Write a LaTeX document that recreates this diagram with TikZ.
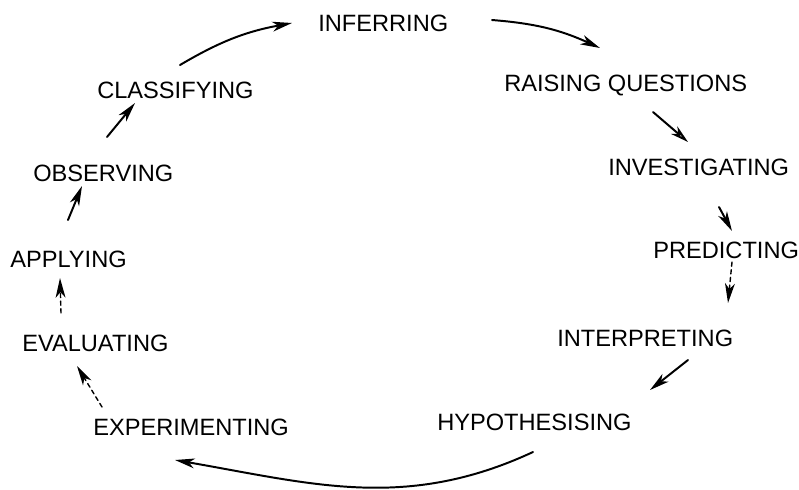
\documentclass[tikz,border=0pt]{standalone}
\usepackage{fontspec}
\setmainfont{Liberation Sans}
\usetikzlibrary{arrows.meta,calc}

\begin{document}
\begin{tikzpicture}[x=0.025cm, y=-0.025cm, line join=round, line cap=round,
  lbl/.style={anchor=west, inner sep=0pt, text depth=0pt, font=\fontsize{16.8}{20}\selectfont},
  flow/.style={-{Stealth[length=14pt, width=7pt, inset=4pt]}, line width=1.4pt},
  flowopen/.style={-{Stealth[open, length=13pt, width=7pt, inset=4pt]}, line width=1.4pt},
  flowdash/.style={flow, line width=1pt, dash pattern=on 3pt off 2.5pt}]
  % 1. Khung hinh
  \useasboundingbox (0,0) rectangle (799,489);

  % 2. Cac buoc cua chu trinh
  \node[lbl] (inf)  at (318,23)  {INFERRING};
  \node[lbl] (rq)   at (504,83)  {RAISING QUESTIONS};
  \node[lbl] (inv)  at (608,167) {INVESTIGATING};
  \node[lbl] (pred) at (653,250) {PREDICTING};
  \node[lbl] (intp) at (557,338) {INTERPRETING};
  \node[lbl] (hyp)  at (437,422) {HYPOTHESISING};
  \node[lbl] (exp)  at (93,427)  {EXPERIMENTING};
  \node[lbl] (eval) at (22,343)  {EVALUATING};
  \node[lbl] (app)  at (10,259)  {APPLYING};
  \node[lbl] (obs)  at (33,173)  {OBSERVING};
  \node[lbl] (cls)  at (97,90)   {CLASSIFYING};

  % 3. Mui ten noi cac buoc
  \draw[flow] ($(cls.west)+(83,-25)$) to[bend left=10] ($(inf.west)+(-26,0)$);
  \draw[flow] ($(inf.west)+(174,-3)$) to[bend left=10] ($(rq.west)+(96,-35)$);
  \draw[flowopen] ($(rq.west)+(149,29)$) -- ($(inv.west)+(80,-25)$);
  \draw[flow] ($(inv.west)+(111,40)$) -- ($(pred.west)+(79,-19)$);
  \draw[flowdash] ($(pred.west)+(79,12)$) -- ($(intp.west)+(171,-35)$);
  \draw[flow] ($(intp.west)+(131,22)$) -- ($(hyp.west)+(213,-32)$);
  \draw[flow] ($(hyp.west)+(96,30)$)
    .. controls ($(hyp.west)+(-31,89)$) and ($(exp.west)+(220,57)$) .. ($(exp.west)+(82,33)$);
  \draw[flowdash] ($(exp.west)+(9,-20)$) -- ($(eval.west)+(55,23)$);
  \draw[flowdash] ($(eval.west)+(39,-30)$) -- ($(app.west)+(50,19)$);
  \draw[flow] ($(app.west)+(58,-39)$) -- ($(obs.west)+(49,13)$);
  \draw[flow] ($(obs.west)+(74,-36)$) -- ($(cls.west)+(38,13)$);
\end{tikzpicture}
\end{document}
